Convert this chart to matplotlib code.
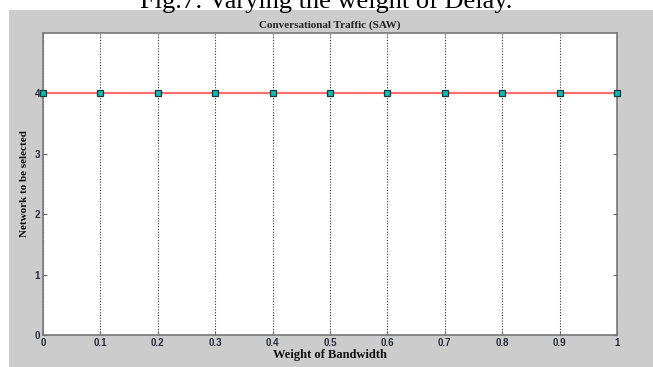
import matplotlib
matplotlib.use('Agg')
import matplotlib.pyplot as plt
from matplotlib.patches import Rectangle

# data
weights = [0.0, 0.1, 0.2, 0.3, 0.4, 0.5, 0.6, 0.7, 0.8, 0.9, 1.0]
network = [4, 4, 4, 4, 4, 4, 4, 4, 4, 4, 4]
xticks = [0, 0.1, 0.2, 0.3, 0.4, 0.5, 0.6, 0.7, 0.8, 0.9, 1]
xticklabels = ['0', '0.1', '0.2', '0.3', '0.4', '0.5', '0.6', '0.7', '0.8', '0.9', '1']
yticks = [0, 1, 2, 3, 4]

serif = ['Liberation Serif', 'DejaVu Serif']
sans = ['Liberation Sans', 'DejaVu Sans']

fig = plt.figure(figsize=(6.53, 3.67), dpi=100)
fig.patch.set_facecolor('white')

# grey matlab figure background (screenshot area)
fig.patches.append(Rectangle((9 / 653, 0), 1 - 9 / 653, (367 - 10) / 367,
                             transform=fig.transFigure, facecolor='#cccccc',
                             edgecolor='none', zorder=-10))

# caption of the paper, cut at the top edge
fig.text(0.5, 1 - 8 / 367, 'Fig.7: Varying the weight of Delay.', ha='center',
         va='baseline', fontsize=19, family=serif, color='black', zorder=-5)

ax = fig.add_axes([43 / 653, 1 - 335 / 367, (617 - 43) / 653, (335 - 33) / 367])
ax.set_zorder(5)
ax.set_facecolor('white')

ax.plot(weights, network, color='#ff6f6f', linewidth=1.6, marker='s',
        markersize=4.5, markerfacecolor='#10b8b8', markeredgecolor='#1a3a3a',
        markeredgewidth=0.9, clip_on=False, zorder=3)

ax.set_xlim(0, 1)
ax.set_ylim(0, 5)
ax.set_xticks(xticks)
ax.set_xticklabels(xticklabels)
ax.set_yticks(yticks)

ax.grid(axis='x', color='#333333', linestyle=(0, (1, 1.5)), linewidth=0.8)
ax.set_axisbelow(True)

for s in ax.spines.values():
    s.set_color('#777777')
    s.set_linewidth(1.2)

ax.tick_params(direction='in', length=3, width=0.8, color='#666666',
               labelsize=7, labelcolor='#2a2a3a', pad=2,
               top=False, right=True)
for lab in ax.get_xticklabels() + ax.get_yticklabels():
    lab.set_family(sans)
    lab.set_fontweight('bold')

ax.set_title('Conversational Traffic (SAW)', fontsize=8, fontweight='bold',
             family=serif, color='#222222', pad=4)
ax.set_xlabel('Weight of Bandwidth', fontsize=9, fontweight='bold',
              family=serif, color='#111111', labelpad=1)
ax.set_ylabel('Network to be selected', fontsize=8, fontweight='bold',
              family=serif, color='#111111', labelpad=4)

fig.savefig('out.png', dpi=100)
